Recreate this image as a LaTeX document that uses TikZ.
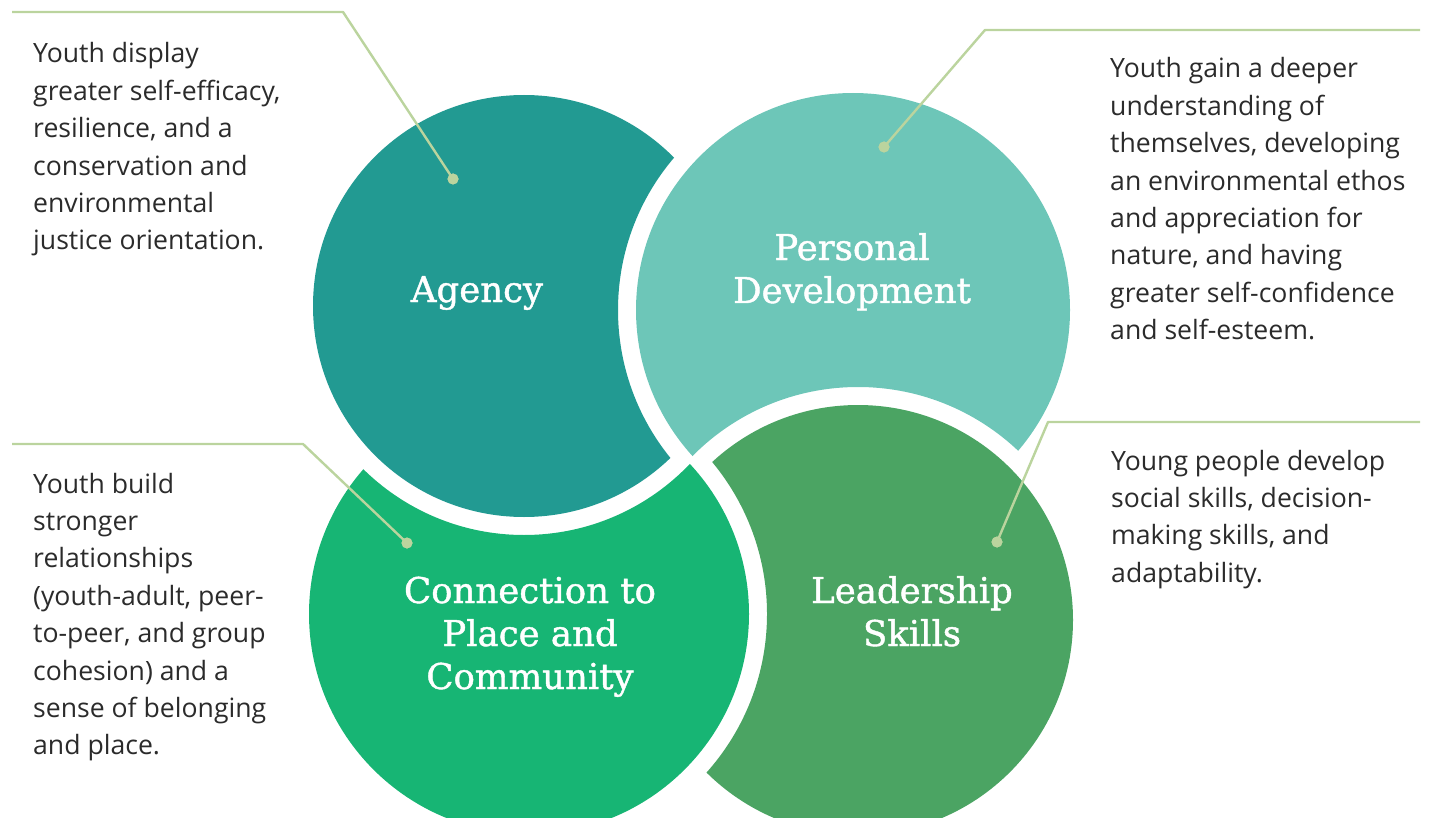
\documentclass[tikz,border=0pt]{standalone}
\usepackage{fontspec}
\setmainfont{Open Sans}
\newfontfamily\titlefont[FakeBold=1.2]{DejaVu Serif}
\definecolor{agencyc}{RGB}{34,154,146}
\definecolor{persc}{RGB}{109,198,184}
\definecolor{connc}{RGB}{23,181,116}
\definecolor{leadc}{RGB}{75,164,99}
\definecolor{linec}{RGB}{187,212,158}
\definecolor{txtc}{RGB}{43,43,43}
\newcommand\ltext[1]{\vtop{\baselineskip=37.4pt\lineskiplimit=-50pt\lineskip=0pt\halign{##\hfil\cr#1\crcr}}}
\newcommand\ctitle[1]{\vtop{\baselineskip=43pt\lineskiplimit=-50pt\lineskip=0pt\halign{\hfil##\hfil\cr#1\crcr}}}
\tikzset{
  desc/.style={anchor=base west, inner sep=0pt, text=txtc, font=\fontsize{26.6}{37.4}\selectfont},
  ttl/.style={anchor=base, inner sep=0pt, text=white, font=\titlefont\fontsize{35.5}{43}\selectfont},
  conn/.style={draw=linec, line width=2.4pt, line join=round},
  dotc/.style={circle, fill=linec, inner sep=0pt, minimum size=11pt}
}
\begin{document}
\begin{tikzpicture}[x=1pt,y=-1pt]
\useasboundingbox (0,0) rectangle (1431,818);
\clip (0,0) rectangle (1431,818);
\coordinate (A) at (524,306);
\coordinate (P) at (853,310);
\coordinate (C) at (529,614);
\coordinate (L) at (858,620);
% shapes: each circle with a bite taken by its neighbour (plus gap)
\begin{scope}
  \clip (A) circle (211);
  \fill[agencyc, even odd rule] (A) circle (218) (P) circle (235);
\end{scope}
\begin{scope}
  \clip (P) circle (217);
  \fill[persc, even odd rule] (P) circle (224) (L) circle (233);
\end{scope}
\begin{scope}
  \clip (L) circle (215);
  \fill[leadc, even odd rule] (L) circle (222) (C) circle (238);
\end{scope}
\begin{scope}
  \clip (C) circle (220);
  \fill[connc, even odd rule] (C) circle (227) (A) circle (229);
\end{scope}
% titles
\node[ttl] (tA) at (477,302) {\ctitle{Agency}};
\node[ttl] (tP) at (852,260) {\ctitle{Personal\cr Development}};
\node[ttl] (tC) at (530,603) {\ctitle{Connection to\cr Place and\cr Community}};
\node[ttl] (tL) at (912,603) {\ctitle{Leadership\cr Skills}};
% descriptions
\node[desc] (dA) at (33,63) {\ltext{Youth display\cr greater self-efficacy,\cr resilience, and a\cr conservation and\cr environmental\cr justice orientation.}};
\node[desc] (dP) at (1110,78) {\ltext{Youth gain a deeper\cr understanding of\cr themselves, developing\cr an environmental ethos\cr and appreciation for\cr nature, and having\cr greater self-confidence\cr and self-esteem.}};
\node[desc] (dC) at (33,493) {\ltext{Youth build\cr stronger\cr relationships\cr (youth-adult, peer-\cr to-peer, and group\cr cohesion) and a\cr sense of belonging\cr and place.}};
\node[desc] (dL) at (1111,470) {\ltext{Young people develop\cr social skills, decision-\cr making skills, and\cr adaptability.}};
% connectors
\coordinate (aS) at (12,12); \coordinate (aK) at (343,12);
\coordinate (pS) at (1420,30); \coordinate (pK) at (985,30);
\coordinate (cS) at (12,444); \coordinate (cK) at (303,444);
\coordinate (lS) at (1420,422); \coordinate (lK) at (1048,422);
\node[dotc] (aD) at (453,179) {};
\node[dotc] (pD) at (884,147) {};
\node[dotc] (cD) at (407,543) {};
\node[dotc] (lD) at (997,542) {};
\draw[conn] (aS) -- (aK) -- (aD.center);
\draw[conn] (pS) -- (pK) -- (pD.center);
\draw[conn] (cS) -- (cK) -- (cD.center);
\draw[conn] (lS) -- (lK) -- (lD.center);
\node[dotc] at (aD) {};
\node[dotc] at (pD) {};
\node[dotc] at (cD) {};
\node[dotc] at (lD) {};
\end{tikzpicture}
\end{document}
